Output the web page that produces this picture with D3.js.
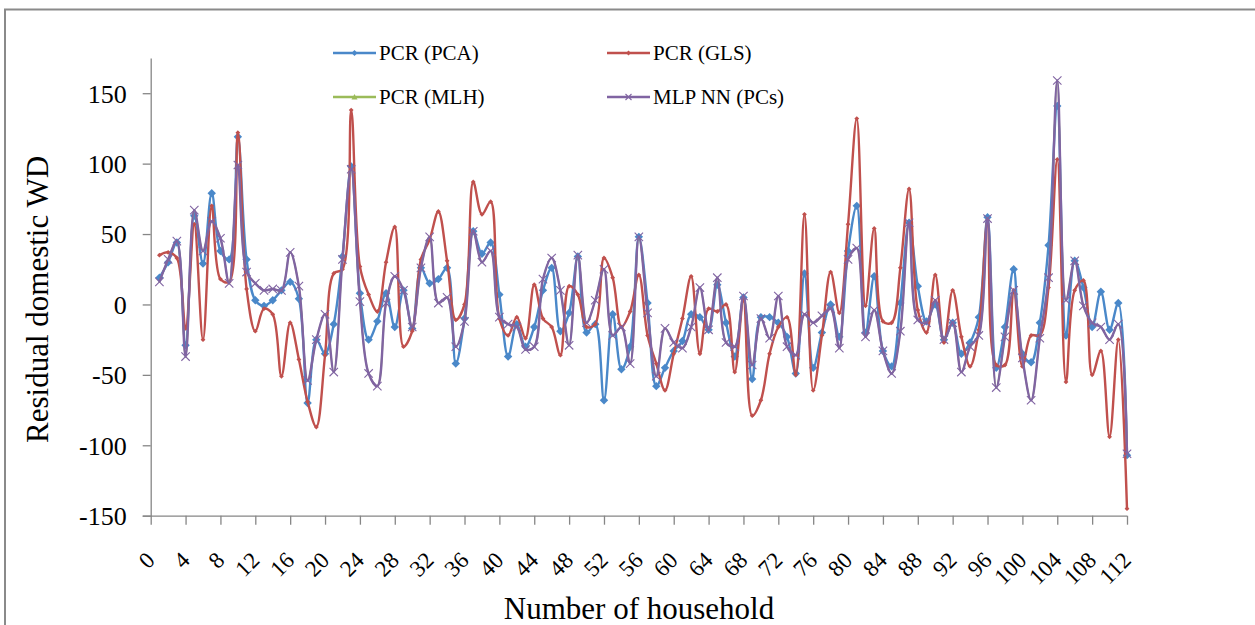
<!DOCTYPE html>
<html>
<head>
<meta charset="utf-8">
<script src="https://cdn.jsdelivr.net/npm/d3@7"></script>
<style>
  html, body { margin: 0; padding: 0; background: #fff; }
  svg text { font-family: "Liberation Serif", "Times New Roman", serif; fill: #000; }
</style>
</head>
<body>
<div id="chart"></div>
<script>
// Household numbers 1..112 and residuals
const households = [
  1, 2, 3, 4, 5, 6, 7, 8, 9, 10, 11, 12, 13, 14, 15, 16, 17, 18, 19, 20,
  21, 22, 23, 24, 25, 26, 27, 28, 29, 30, 31, 32, 33, 34, 35, 36, 37, 38, 39, 40,
  41, 42, 43, 44, 45, 46, 47, 48, 49, 50, 51, 52, 53, 54, 55, 56, 57, 58, 59, 60,
  61, 62, 63, 64, 65, 66, 67, 68, 69, 70, 71, 72, 73, 74, 75, 76, 77, 78, 79, 80,
  81, 82, 83, 84, 85, 86, 87, 88, 89, 90, 91, 92, 93, 94, 95, 96, 97, 98, 99, 100,
  101, 102, 103, 104, 105, 106, 107, 108, 109, 110, 111, 112
];

const pcaValues = [
  19, 30, 44, -29, 63, 29, 79, 38, 32, 119, 32, 3, -1, 3, 10, 16, 4, -70, -25, -35,
  -14, 34, 98, 8, -25, -12, 8, -16, 10, -17, 26, 15, 18, 26, -42, -10, 52, 36, 44, 7,
  -37, -14, -30, -16, 10, 26, -19, -6, 34, -20, -14, -68, -7, -46, -30, 48, 1, -58, -45, -33,
  -26, -7, -9, -18, 14, -13, -37, 5, -53, -9, -9, -13, -23, -49, 22, -45, -20, 0, -23, 38,
  70, -20, 20, -33, -44, 1, 58, 13, -12, 0, -25, -13, -35, -27, -9, 62, -45, -16, 25, -35,
  -41, -13, 42, 141, -22, 31, 12, -16, 9, -18, 1, -107
];

const glsValues = [
  35, 37, 33, -17, 57, -25, 70, 18, 16, 122, 11, -19, -3, -7, -51, -13, -39, -69, -87, -36,
  22, 25, 138, 27, 7, -5, 30, 55, -30, -19, 32, 46, 66, 31, -11, 0, 87, 64, 73, -10,
  -22, -9, -24, 14, -10, -16, -36, 13, 7, -16, -14, 33, 19, -16, -5, 21, -22, -42, -61, -35,
  -10, 20, -35, -3, -5, 0, -48, 3, -79, -68, -35, -16, -9, -50, 64, -61, -22, 23, -6, 57,
  132, -1, 54, -12, -13, 26, 82, -4, -20, 21, -27, 10, -23, -44, -18, 60, -43, -43, 10, -44,
  -22, -22, 12, 103, -55, 10, 17, -50, -33, -94, -25, -145
];

// PCR (MLH) lies exactly under the MLP NN line in the picture
const mlhValues = [
  16, 32, 45, -37, 67, 38, 59, 47, 15, 99, 23, 15, 10, 11, 10, 37, 13, -54, -25, -7,
  -48, 32, 96, 2, -49, -58, 1, 20, 10, -16, 26, 48, 1, 5, -30, -12, 52, 30, 38, -9,
  -14, -16, -32, -30, 18, 33, 10, -29, 35, -13, 3, 25, -22, -16, -42, 48, -6, -51, -17, -27,
  -31, -16, 12, -18, 19, -27, -30, 6, -43, -10, -24, 6, -30, -36, -7, -13, -8, -3, -31, 32,
  40, -23, -4, -33, -49, -19, 58, -11, -13, 3, -25, -13, -48, -30, -22, 61, -59, -23, 10, -38,
  -68, -24, 19, 159, 3, 31, -1, -13, -16, -25, -14, -106
];

const mlpValues = [
  16, 32, 45, -37, 67, 38, 59, 47, 15, 99, 23, 15, 10, 11, 10, 37, 13, -54, -25, -7,
  -48, 32, 96, 2, -49, -58, 1, 20, 10, -16, 26, 48, 1, 5, -30, -12, 52, 30, 38, -9,
  -14, -16, -32, -30, 18, 33, 10, -29, 35, -13, 3, 25, -22, -16, -42, 48, -6, -51, -17, -27,
  -31, -16, 12, -18, 19, -27, -30, 6, -43, -10, -24, 6, -30, -36, -7, -13, -8, -3, -31, 32,
  40, -23, -4, -33, -49, -19, 58, -11, -13, 3, -25, -13, -48, -30, -22, 61, -59, -23, 10, -38,
  -68, -24, 19, 159, 3, 31, -1, -13, -16, -25, -14, -106
];

const xTicks = d3.range(0, 113, 4);
const yTicks = [-150, -100, -50, 0, 50, 100, 150];

const series = [
  { name: "PCR (PCA)", values: pcaValues, color: "#4A88C9", marker: "diamond" },
  { name: "PCR (GLS)", values: glsValues, color: "#C0504D", marker: "dot" },
  { name: "PCR (MLH)", values: mlhValues, color: "#9BBB59", marker: "triangle", hidden: true },
  { name: "MLP NN (PCs)", values: mlpValues, color: "#8064A2", marker: "cross" }
];

const width = 1255, height = 625;
const serif = "'Liberation Serif', 'Times New Roman', serif";

const svg = d3.select("#chart").append("svg")
  .attr("width", width)
  .attr("height", height)
  .attr("font-family", serif);

// chart area border (only left and top are inside the window)
svg.append("rect")
  .attr("x", 5).attr("y", 9.5)
  .attr("width", 1400).attr("height", 800)
  .attr("fill", "none")
  .attr("stroke", "#8a8a8a")
  .attr("stroke-width", 2);

const x = d3.scaleLinear().domain([0, 112]).range([150.7, 1127]);
const y = d3.scaleLinear().domain([-150, 175]).range([515.7, 58]);

// axes
const xAxis = svg.append("g")
  .attr("transform", `translate(0,${y(-150)})`)
  .call(d3.axisBottom(x).tickValues(xTicks).tickSize(9).tickSizeOuter(0).tickFormat(d3.format("d")));
xAxis.select(".domain").attr("d", `M${x(0) - 8},0.5H${x(112)}`);
xAxis.selectAll("text")
  .attr("font-family", serif)
  .attr("font-size", 23)
  .attr("text-anchor", "end")
  .attr("dy", 0).attr("y", 0)
  .attr("transform", "translate(5,46) rotate(-45)");

const yAxis = svg.append("g")
  .attr("transform", `translate(${x(0)},0)`)
  .call(d3.axisLeft(y).tickValues(yTicks).tickSize(8).tickSizeOuter(0)
    .tickFormat((d) => String(d)));
yAxis.selectAll("text")
  .attr("font-family", serif)
  .attr("font-size", 26)
  .attr("x", -24)
  .attr("dy", "0.34em");

svg.selectAll(".domain, .tick line")
  .attr("stroke", "#868686")
  .attr("stroke-width", 1.3);

// axis titles
svg.append("text")
  .attr("transform", `translate(48,${y(0) - 5}) rotate(-90)`)
  .attr("text-anchor", "middle")
  .attr("font-size", 31)
  .text("Residual domestic WD");

svg.append("text")
  .attr("x", 639).attr("y", 619)
  .attr("text-anchor", "middle")
  .attr("font-size", 31)
  .text("Number of household");

// marker shapes
function drawMarker(sel, kind, color, s) {
  if (kind === "diamond") {
    sel.append("path").attr("d", `M0,${-s}L${s},0L0,${s}L${-s},0Z`).attr("fill", color);
  } else if (kind === "dot") {
    sel.append("path").attr("d", `M0,-2.4L2.4,0L0,2.4L-2.4,0Z`).attr("fill", color);
  } else if (kind === "triangle") {
    sel.append("path").attr("d", `M0,${-s}L${s},${s * 0.8}L${-s},${s * 0.8}Z`).attr("fill", color);
  } else {
    sel.append("path").attr("d", `M${-s},${-s}L${s},${s}M${-s},${s}L${s},${-s}`)
      .attr("stroke", color).attr("stroke-width", 1.1).attr("fill", "none");
  }
}

const line = d3.line()
  .x((d, i) => x(households[i]))
  .y((d) => y(d))
  .curve(d3.curveCatmullRom.alpha(0.5));

series.forEach((s) => {
  const g = svg.append("g");
  g.append("path")
    .attr("d", line(s.values))
    .attr("fill", "none")
    .attr("stroke", s.color)
    .attr("stroke-width", s.hidden ? 1.6 : 2.4)
    .attr("stroke-linejoin", "round");
  g.selectAll(".m")
    .data(s.values)
    .enter()
    .append("g")
    .attr("transform", (d, i) => `translate(${x(households[i])},${y(d)})`)
    .each(function () { drawMarker(d3.select(this), s.marker, s.color, s.hidden ? 1 : 4.2); });
});

// legend
const legendPos = [[333, 53], [607, 53], [333, 97], [607, 97]];
series.forEach((s, i) => {
  const [lx, ly] = legendPos[i];
  const g = svg.append("g").attr("transform", `translate(${lx},${ly})`);
  g.append("line").attr("x1", 0).attr("x2", 43).attr("y1", 0).attr("y2", 0)
    .attr("stroke", s.color).attr("stroke-width", 2.4);
  const m = g.append("g").attr("transform", "translate(21.5,0)");
  drawMarker(m, s.marker, s.color, 3);
  g.append("text").attr("x", 46).attr("y", 7).attr("font-size", 21)
    .attr("font-family", serif).text(s.name);
});
</script>
</body>
</html>
